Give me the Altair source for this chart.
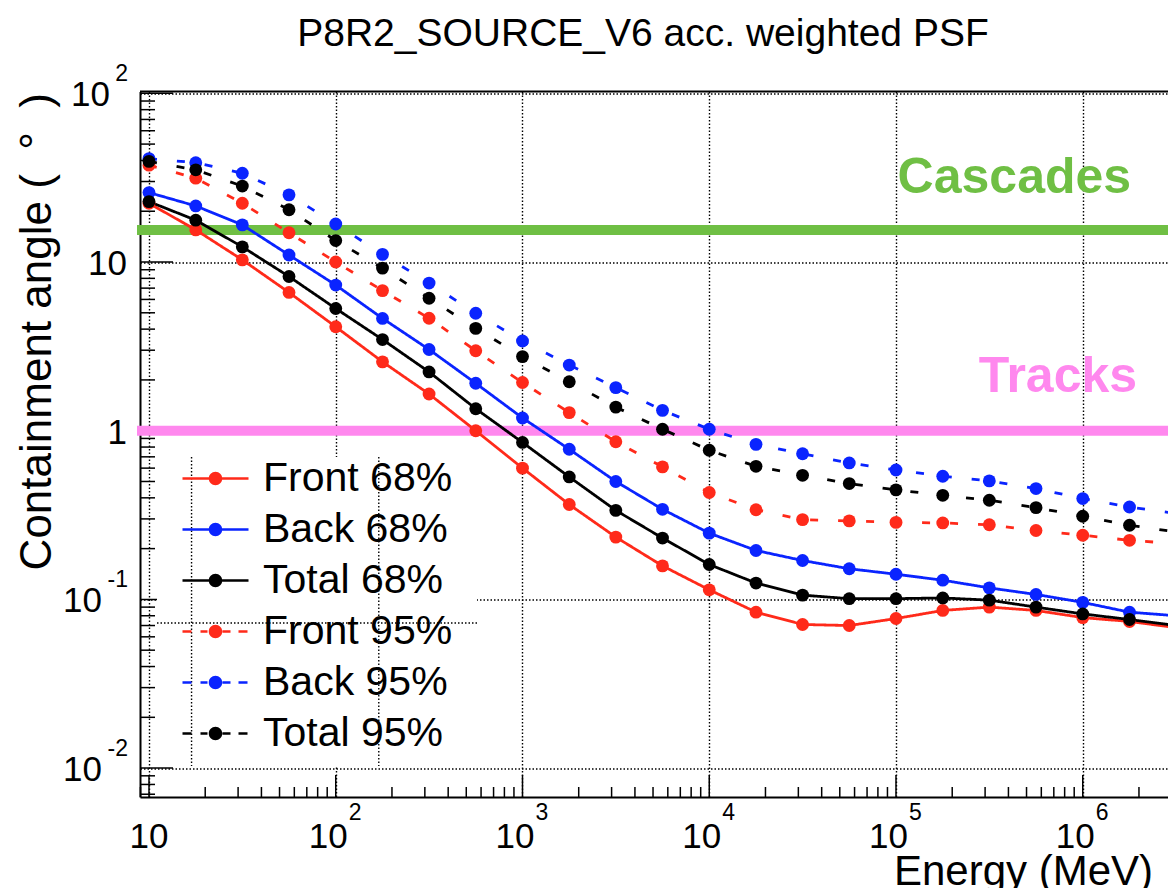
import altair as alt
import pandas as pd

# ---------------- data ----------------
energy_mev = [10, 17.8, 31.6, 56.2, 100, 178, 316, 562, 1000, 1780, 3160, 5620,
              1e4, 1.78e4, 3.16e4, 5.62e4, 1e5, 1.78e5, 3.16e5, 5.62e5, 1e6, 1.78e6, 3.16e6]

front_68 = [22.3, 15.5, 10.3, 6.6, 4.13, 2.56, 1.65, 1.0, 0.60, 0.365, 0.234, 0.158,
            0.114, 0.084, 0.071, 0.070, 0.077, 0.086, 0.090, 0.086, 0.078, 0.074, 0.068]
back_68 = [25.8, 21.5, 16.6, 11.0, 7.3, 4.63, 3.03, 1.91, 1.19, 0.776, 0.50, 0.342,
           0.247, 0.195, 0.170, 0.152, 0.141, 0.130, 0.117, 0.107, 0.096, 0.084, 0.080]
total_68 = [22.8, 17.7, 12.3, 8.2, 5.3, 3.47, 2.23, 1.35, 0.852, 0.532, 0.337, 0.231,
            0.161, 0.125, 0.106, 0.101, 0.101, 0.102, 0.099, 0.090, 0.082, 0.076, 0.070]
front_95 = [37.5, 31.4, 22.3, 14.9, 10.0, 6.77, 4.64, 2.98, 1.93, 1.28, 0.86, 0.61,
            0.43, 0.34, 0.297, 0.292, 0.286, 0.284, 0.277, 0.256, 0.240, 0.224, 0.214]
back_95 = [41.0, 38.8, 33.6, 25.0, 16.8, 11.1, 7.5, 4.97, 3.4, 2.45, 1.80, 1.32,
           1.02, 0.83, 0.73, 0.644, 0.585, 0.537, 0.504, 0.454, 0.396, 0.353, 0.323]
total_95 = [39.5, 35.2, 28.2, 20.4, 13.4, 9.2, 6.1, 4.04, 2.75, 1.95, 1.38, 1.02,
            0.766, 0.615, 0.544, 0.486, 0.446, 0.414, 0.387, 0.350, 0.311, 0.275, 0.251]

series_names = ["Front 68%", "Back 68%", "Total 68%", "Front 95%", "Back 95%", "Total 95%"]
series_values = [front_68, back_68, total_68, front_95, back_95, total_95]

cascades_level = [15.5]
tracks_level = [1.0]
annot_text = ["Cascades", "Tracks"]
annot_x = [1.02e5, 2.77e5]
annot_y = [25.6, 1.69]

title_text = ["P8R2_SOURCE_V6 acc. weighted PSF"]
ytitle_text = ["Containment angle (\u00a0\u00a0°\u00a0\u00a0)"]
xtitle_text = ["Energy (MeV)"]

x_major = [10, 100, 1000, 1e4, 1e5, 1e6]
x_plain_vals, x_plain_text = [10], ["10"]
x_exp_vals = [100, 1000, 1e4, 1e5, 1e6]
x_exp_text = ["2", "3", "4", "5", "6"]
y_major = [0.01, 0.1, 1, 10, 100]
y_plain_vals, y_plain_text = [1, 10], ["1", "10"]
y_pos_vals, y_pos_exp = [100], ["2"]
y_neg_vals, y_neg_exp = [0.01, 0.1], ["-2", "-1"]

# ---------------- styles ----------------
RED, BLUE, BLACK = "#ff2a1a", "#0a24ff", "#000000"
GREEN, PINK = "#6fbf44", "#ff88ee"
FONT = "Liberation Sans"
series_colors = [RED, BLUE, BLACK, RED, BLUE, BLACK]
DASH = [8, 20]
series_dashes = [[1, 0], [1, 0], [1, 0], DASH, DASH, DASH]

XMIN, XMAX = 8.95, 2.861e6
YMIN, YMAX = 0.00674, 102.5
W, H = 1028, 705.5

x_minor = [m * 10.0 ** e for e in range(0, 7) for m in range(2, 10) if XMIN <= m * 10.0 ** e <= XMAX]
y_minor = [m * 10.0 ** e for e in range(-3, 2) for m in range(2, 10) if YMIN <= m * 10.0 ** e <= YMAX]

xs = alt.Scale(type="log", domain=[XMIN, XMAX], nice=False)
ys = alt.Scale(type="log", domain=[YMIN, YMAX], nice=False)
cscale = alt.Scale(domain=series_names, range=series_colors)

xaxis = alt.Axis(values=x_major, grid=True, gridDash=[1.5, 2], gridColor="black", gridOpacity=1,
                 gridWidth=1.4, ticks=False, labels=False, domain=True, domainColor="black",
                 domainWidth=2, title=None)
yaxis = alt.Axis(values=y_major, grid=True, gridDash=[1.5, 2], gridColor="black", gridOpacity=1,
                 gridWidth=1.4, ticks=False, labels=False, domain=True, domainColor="black",
                 domainWidth=2, title=None)


def X(field):
    return alt.X(field, scale=xs, axis=xaxis)


def Y(field):
    return alt.Y(field, scale=ys, axis=yaxis)


# legend symbols: line + marker (solid) or dashes + marker
R = 0.3375
circ = f"M{R},0A{R},{R} 0 1,1 -{R},0A{R},{R} 0 1,1 {R},0Z"
solid_sym = "M-1.65,-0.0625H1.65V0.0625H-1.65Z " + circ
dash_sym = ("M-1.65,-0.0625H-1.2V0.0625H-1.65Z M-0.75,-0.0625H-0.4V0.0625H-0.75Z "
            "M0.35,-0.0625H0.75V0.0625H0.35Z M1.15,-0.0625H1.6V0.0625H1.15Z " + circ)
shape_paths = [solid_sym, solid_sym, solid_sym, dash_sym, dash_sym, dash_sym]

rows = []
for name, vals in zip(series_names, series_values):
    for e, v in zip(energy_mev, vals):
        rows.append({"series": name, "energy": e, "angle": v})
df = pd.DataFrame(rows)

# ---------------- layers ----------------
lines = alt.Chart(df).mark_line(strokeWidth=2.8).encode(
    x=X("energy:Q"), y=Y("angle:Q"),
    color=alt.Color("series:N", scale=cscale, legend=None),
    strokeDash=alt.StrokeDash("series:N", scale=alt.Scale(domain=series_names, range=series_dashes), legend=None),
    detail="series:N",
)
points = alt.Chart(df).mark_point(filled=True, size=165, opacity=1, shape="circle").encode(
    x=X("energy:Q"), y=Y("angle:Q"),
    color=alt.Color("series:N", scale=cscale, legend=None),
)
leg = alt.Legend(orient="none", legendX=55, legendY=366.5, title=None, labelFont=FONT,
                 labelFontSize=41, labelColor="black", labelOffset=27, rowPadding=9,
                 symbolSize=1600, symbolStrokeWidth=0, padding=0, labelLimit=500,
                 symbolOpacity=1, zindex=5)
legend_layer = alt.Chart(df).mark_point(filled=True, size=1600, opacity=0).encode(
    x=X("energy:Q"), y=Y("angle:Q"),
    fill=alt.Fill("series:N", scale=cscale, legend=leg),
    shape=alt.Shape("series:N", scale=alt.Scale(domain=series_names, range=shape_paths), legend=leg),
)


def vdf(vals, **extra):
    d = {"v": vals}
    d.update(extra)
    return pd.DataFrame(d)


ytick_major = alt.Chart(vdf(y_major)).mark_rule(color="black", strokeWidth=1.5).encode(
    y=Y("v:Q"), x=alt.value(0), x2=alt.value(33))
ytick_minor = alt.Chart(vdf(y_minor)).mark_rule(color="black", strokeWidth=1.5).encode(
    y=Y("v:Q"), x=alt.value(0), x2=alt.value(15))
xtick_major = alt.Chart(vdf(x_major)).mark_rule(color="black", strokeWidth=1.5).encode(
    x=X("v:Q"), y=alt.value(H), y2=alt.value(H - 22))
xtick_minor = alt.Chart(vdf(x_minor)).mark_rule(color="black", strokeWidth=1.5).encode(
    x=X("v:Q"), y=alt.value(H), y2=alt.value(H - 10))
top_frame = alt.Chart(vdf([0])).mark_rule(color="black", strokeWidth=2).encode(
    y=alt.value(0), x=alt.value(0), x2=alt.value(W))

legend_box = alt.Chart(vdf([0])).mark_rect(color="white").encode(
    x=alt.value(17), x2=alt.value(337), y=alt.value(365.5), y2=alt.value(674.5))
box_vlines = alt.Chart(vdf([16.9, 170])).mark_rule(color="black", strokeWidth=1.4, strokeDash=[1.5, 2]).encode(
    x=X("v:Q"), y=alt.value(365.5), y2=alt.value(674.5))
box_hline = alt.Chart(vdf([0.0724])).mark_rule(color="black", strokeWidth=1.4, strokeDash=[1.5, 2]).encode(
    y=Y("v:Q"), x=alt.value(17), x2=alt.value(337))

casc_rule = alt.Chart(vdf(cascades_level)).mark_rule(color=GREEN, strokeWidth=10).encode(
    y=Y("v:Q"), x=alt.value(-3), x2=alt.value(W))
track_rule = alt.Chart(vdf(tracks_level)).mark_rule(color=PINK, strokeWidth=10).encode(
    y=Y("v:Q"), x=alt.value(-3), x2=alt.value(W))

annot_df = pd.DataFrame({"t": annot_text, "x": annot_x, "y": annot_y, "c": [GREEN, PINK]})
annots = alt.Chart(annot_df).mark_text(font=FONT, fontSize=50, fontWeight="bold", align="left",
                                       baseline="alphabetic").encode(
    x=X("x:Q"), y=Y("y:Q"), text="t:N", color=alt.Color("c:N", scale=None))

# tick labels
xl_plain = alt.Chart(vdf(x_plain_vals, t=x_plain_text)).mark_text(
    font=FONT, fontSize=35, align="center", baseline="alphabetic").encode(
    x=X("v:Q"), y=alt.value(H + 51), text="t:N")
xl_base = alt.Chart(vdf(x_exp_vals, t=["10"] * len(x_exp_vals))).mark_text(
    font=FONT, fontSize=35, align="right", baseline="alphabetic", dx=12).encode(
    x=X("v:Q"), y=alt.value(H + 51), text="t:N")
xl_exp = alt.Chart(vdf(x_exp_vals, t=x_exp_text)).mark_text(
    font=FONT, fontSize=23, align="left", baseline="alphabetic", dx=13).encode(
    x=X("v:Q"), y=alt.value(H + 23), text="t:N")

yl_plain = alt.Chart(vdf(y_plain_vals, t=y_plain_text)).mark_text(
    font=FONT, fontSize=35, align="right", baseline="alphabetic", dy=13).encode(
    y=Y("v:Q"), x=alt.value(-13), text="t:N")
yl_pos_base = alt.Chart(vdf(y_pos_vals, t=["10"])).mark_text(
    font=FONT, fontSize=35, align="right", baseline="alphabetic", dy=13).encode(
    y=Y("v:Q"), x=alt.value(-30), text="t:N")
yl_neg_base = alt.Chart(vdf(y_neg_vals, t=["10"] * len(y_neg_vals))).mark_text(
    font=FONT, fontSize=35, align="right", baseline="alphabetic", dy=13).encode(
    y=Y("v:Q"), x=alt.value(-38), text="t:N")
yl_exp = alt.Chart(vdf(y_pos_vals + y_neg_vals, t=y_pos_exp + y_neg_exp)).mark_text(
    font=FONT, fontSize=23, align="right", baseline="alphabetic", dy=-12).encode(
    y=Y("v:Q"), x=alt.value(-12), text="t:N")

title = alt.Chart(pd.DataFrame({"t": title_text})).mark_text(
    font=FONT, fontSize=39, align="center", baseline="alphabetic").encode(
    x=alt.value(503), y=alt.value(-45.5), text="t:N")
ytitle = alt.Chart(pd.DataFrame({"t": ytitle_text})).mark_text(
    font=FONT, fontSize=44, align="right", baseline="alphabetic", angle=270).encode(
    x=alt.value(-89), y=alt.value(1.5), text="t:N")
xtitle = alt.Chart(pd.DataFrame({"t": xtitle_text})).mark_text(
    font=FONT, fontSize=42, align="right", baseline="alphabetic").encode(
    x=alt.value(1013), y=alt.value(793), text="t:N")

chart = alt.layer(
    legend_layer,
    ytick_major, ytick_minor, xtick_major, xtick_minor, top_frame,
    legend_box, box_vlines, box_hline,
    casc_rule, track_rule,
    lines, points,
    annots, xl_plain, xl_base, xl_exp, yl_plain, yl_pos_base, yl_neg_base, yl_exp,
    title, ytitle, xtitle,
).properties(
    width=W, height=H,
    autosize=alt.AutoSizeParams(type="none"),
    padding={"left": 132, "top": 83.5, "right": 0, "bottom": 100},
    background="white",
).configure_view(stroke=None)

chart.save("out.html", embed_options={"renderer": "svg", "actions": False})
